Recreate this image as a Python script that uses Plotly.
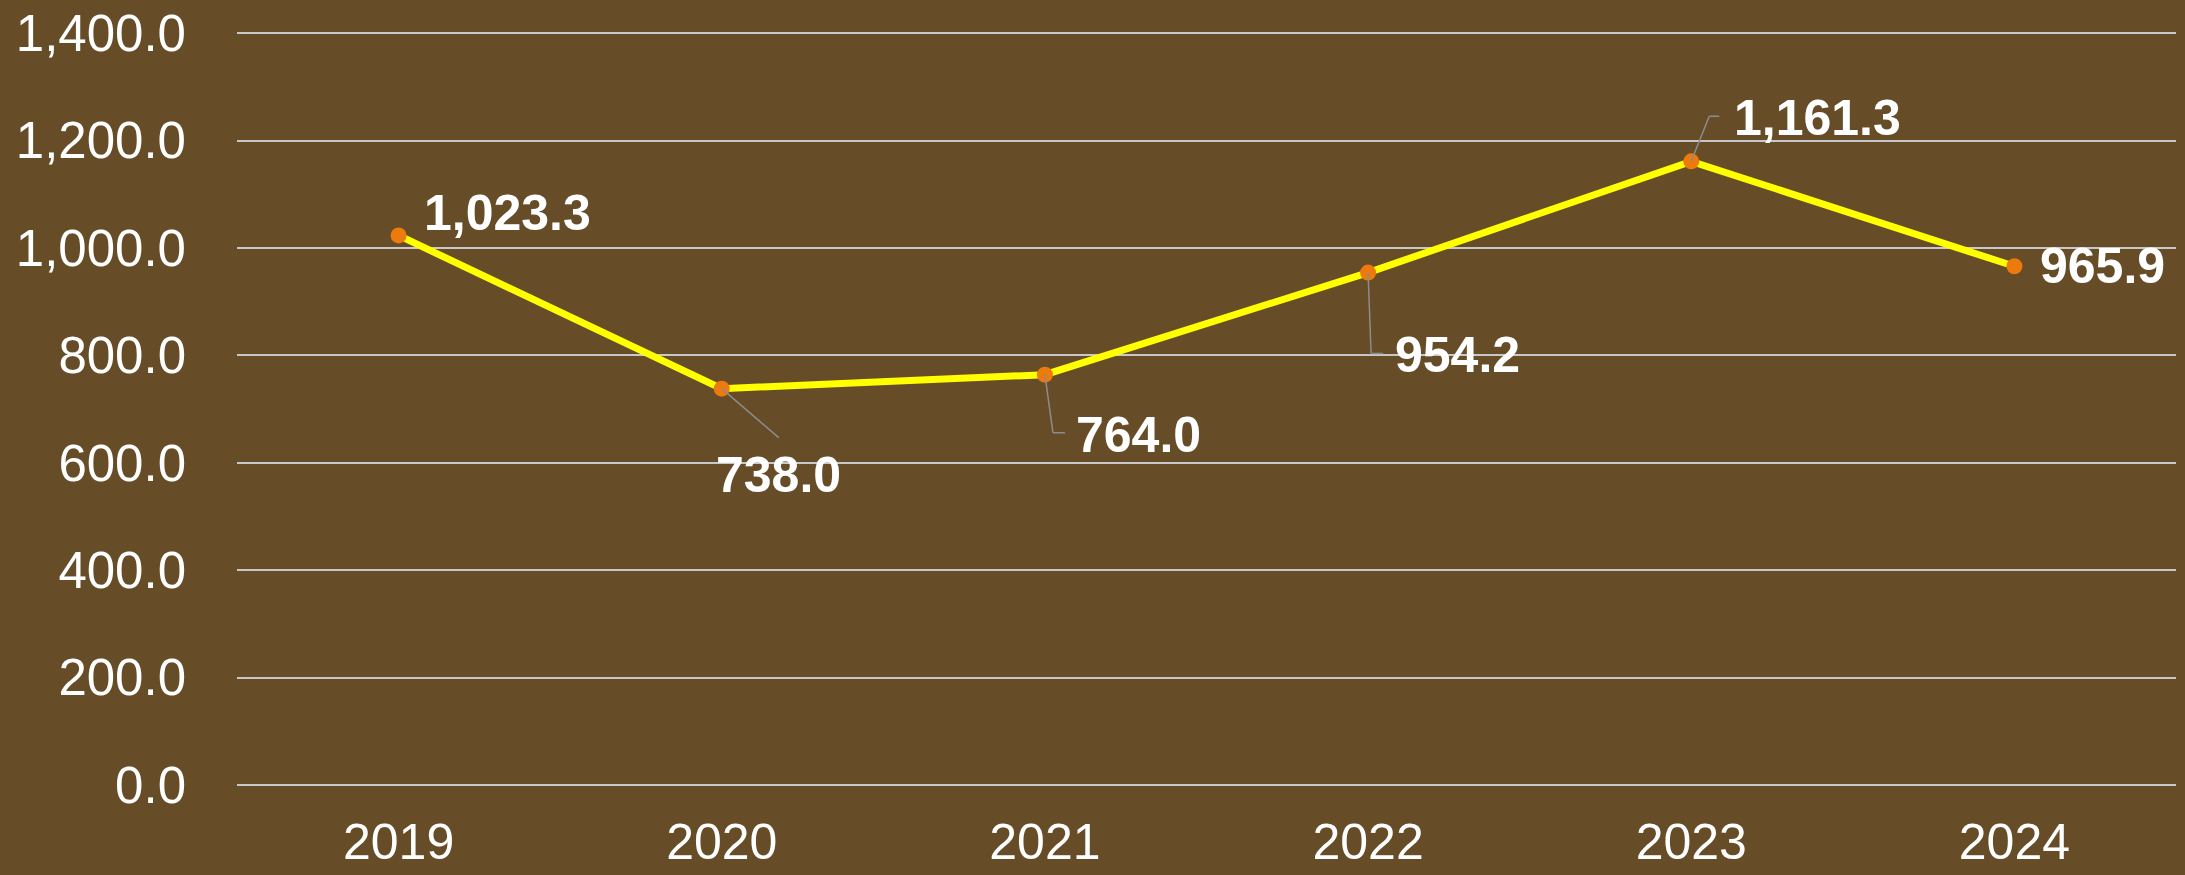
import plotly.graph_objects as go

years = ["2019", "2020", "2021", "2022", "2023", "2024"]
values = [1023.3, 738.0, 764.0, 954.2, 1161.3, 965.9]
labels = ["1,023.3", "738.0", "764.0", "954.2", "1,161.3", "965.9"]

# label placement (pixel offsets of label centre from each point; y up)
label_dx = [109, 57, 94, 89, 126, 88]
label_dy = [22, -86, -60, -82, 43, 0]
# leader line vertices (pixel offsets from each point; y up)
leaders = [
    None,
    [(0, 0), (57, -49)],
    [(0, 0), (8, -58), (20, -58)],
    [(0, 0), (3, -81), (15, -81)],
    [(0, 0), (18, 45), (28, 45)],
    None,
]

BG = "#664D28"
FONT = "Liberation Sans, Arial, sans-serif"

fig = go.Figure()
fig.add_trace(go.Scatter(
    x=years, y=values, mode="lines+markers",
    line=dict(color="#FFFF00", width=7),
    marker=dict(color="#EC7A0C", size=16),
    hoverinfo="skip", showlegend=False,
))

for i, (v, lab, dx, dy, pts) in enumerate(zip(values, labels, label_dx, label_dy, leaders)):
    if pts:
        for (x1, y1), (x2, y2) in zip(pts[:-1], pts[1:]):
            fig.add_annotation(
                x=i, y=v, xshift=x2, yshift=y2, ax=x1 - x2, ay=-(y1 - y2),
                axref="pixel", ayref="pixel", text="", showarrow=True,
                arrowhead=0, arrowwidth=1.5, arrowcolor="#8C8C8C",
                standoff=0, startstandoff=0, borderpad=0, borderwidth=0,
            )
    fig.add_annotation(x=i, y=v, text=lab, showarrow=False, xshift=dx, yshift=dy,
                       font=dict(family=FONT, size=50, color="white", weight="bold"))

fig.update_layout(
    width=2185, height=875,
    paper_bgcolor=BG, plot_bgcolor=BG,
    margin=dict(l=237, r=9, t=31, b=90),
    font=dict(family=FONT, color="white", size=50),
    xaxis=dict(type="category", range=[-0.5, 5.5], showgrid=False, showline=False,
               zeroline=False, ticks="", ticklabelstandoff=23, automargin=False,
               tickfont=dict(size=50, color="white")),
    yaxis=dict(range=[0, 1404], dtick=200, tickformat=",.1f", showgrid=True,
               gridcolor="#C8C8C8", gridwidth=2, zeroline=True, zerolinecolor="#C8C8C8",
               zerolinewidth=2, showline=False, ticks="", ticklabelstandoff=50,
               automargin=False, tickfont=dict(size=51, color="white")),
)

fig.write_html("out.html", config={"displayModeBar": False},
               post_script="document.body.style.margin='0';document.body.style.overflow='hidden';")
